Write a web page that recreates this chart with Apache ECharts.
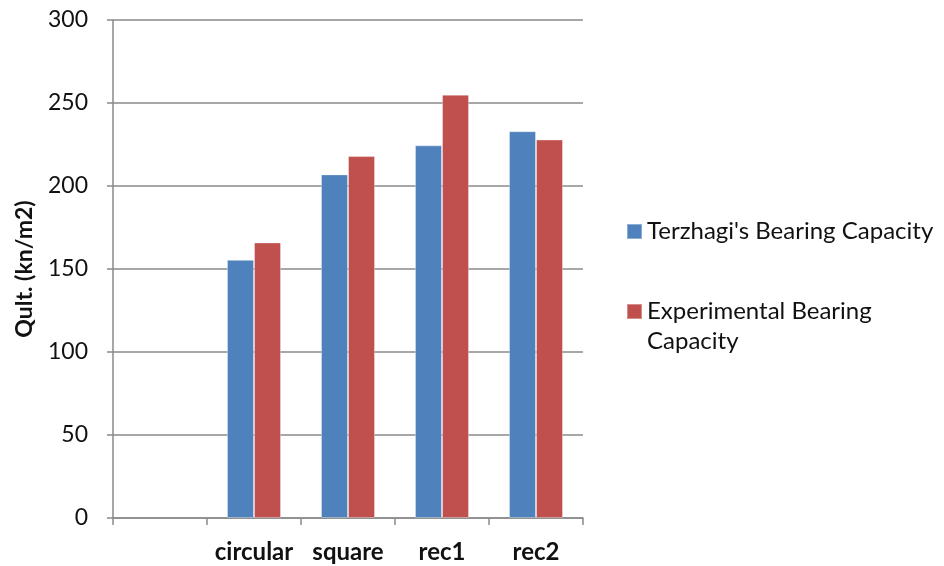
<!DOCTYPE html>
<html>
<head>
<meta charset="utf-8">
<script src="https://cdn.jsdelivr.net/npm/echarts@6/dist/echarts.min.js"></script>
<style>
  html, body { margin: 0; padding: 0; background: #fff; }
  #chart { width: 944px; height: 566px; }
</style>
</head>
<body>
<div id="chart"></div>
<script>
// Footing shapes (first slot left empty on the axis)
const categories = ['', 'circular', 'square', 'rec1', 'rec2'];
// Ultimate bearing capacity, kN/m2
const terzaghiValues = [null, 155.5, 207, 224.5, 233];
const experimentalValues = [null, 166, 218, 255, 228];
const yTicks = { min: 0, max: 300, interval: 50 };

const seriesNames = ["Terzhagi's Bearing Capacity", 'Experimental Bearing Capacity'];
const FONT = 'Lato, "Open Sans", sans-serif';
const GRID_COLOR = '#8a8a8a';

const chart = echarts.init(document.getElementById('chart'));

chart.setOption({
  animation: false,
  textStyle: { fontFamily: FONT },
  grid: { left: 113, top: 20, width: 470, height: 498 },
  legend: [
    {
      data: [seriesNames[0]],
      left: 621, top: 210.5,
      itemWidth: 15, itemHeight: 15, itemGap: 0,
      icon: 'rect',
      textStyle: { fontFamily: FONT, fontSize: 24, color: '#111', lineHeight: 32 }
    },
    {
      data: [seriesNames[1]],
      left: 621, top: 261.5,
      itemWidth: 15, itemHeight: 15, itemGap: 0,
      icon: 'rect',
      // leading blank line keeps the marker level with the first text line
      formatter: () => '\nExperimental Bearing\nCapacity',
      textStyle: { fontFamily: FONT, fontSize: 24, color: '#111', lineHeight: 30 }
    }
  ],
  xAxis: {
    type: 'category',
    data: categories,
    boundaryGap: true,
    axisLine: { lineStyle: { color: GRID_COLOR, width: 1.5 } },
    axisTick: { show: true, length: 7, lineStyle: { color: GRID_COLOR, width: 1.5 } },
    axisLabel: { fontFamily: FONT, fontSize: 24, fontWeight: 'bold', color: '#111', margin: 22, interval: 0 },
    splitLine: { show: false }
  },
  yAxis: {
    type: 'value',
    min: yTicks.min, max: yTicks.max, interval: yTicks.interval,
    name: 'Qult. (kn/m2)',
    nameLocation: 'middle',
    nameGap: 77,
    nameTextStyle: { fontFamily: FONT, fontSize: 23, fontWeight: 'bold', color: '#111' },
    axisLine: { show: true, lineStyle: { color: GRID_COLOR, width: 1.5 } },
    axisTick: { show: true, length: 6, lineStyle: { color: GRID_COLOR, width: 1.5 } },
    axisLabel: { fontFamily: FONT, fontSize: 23, color: '#111', margin: 25 },
    splitLine: { show: true, lineStyle: { color: GRID_COLOR, width: 1.5 } }
  },
  series: [
    {
      name: seriesNames[0],
      type: 'bar',
      data: terzaghiValues,
      barGap: '0%',
      barCategoryGap: '42.5%',
      itemStyle: { color: '#4F81BD', borderColor: 'rgba(255,255,255,0.35)', borderWidth: 1 }
    },
    {
      name: seriesNames[1],
      type: 'bar',
      data: experimentalValues,
      barGap: '0%',
      barCategoryGap: '42.5%',
      itemStyle: { color: '#C0504D', borderColor: 'rgba(255,255,255,0.35)', borderWidth: 1 }
    }
  ]
});
</script>
</body>
</html>
